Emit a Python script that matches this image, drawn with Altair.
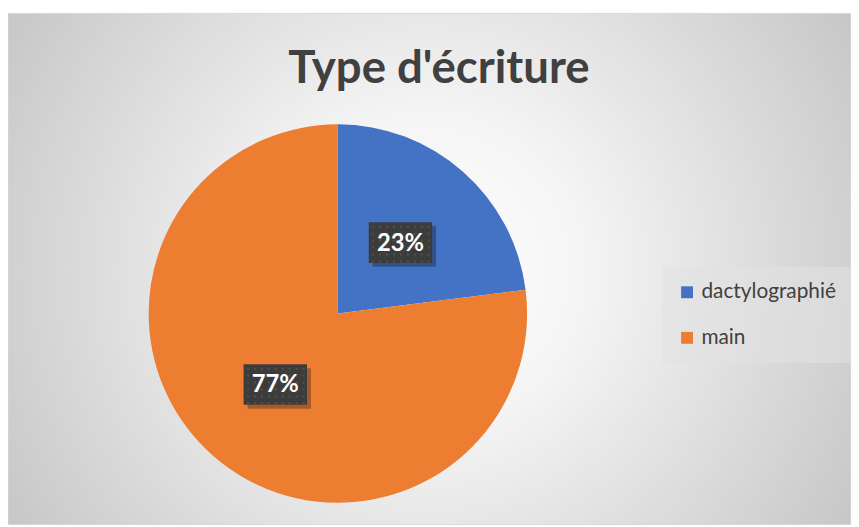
import altair as alt
import pandas as pd

# ---- data ----
categories = ["dactylographié", "main"]
values = [23, 77]
label_texts = ["23%", "77%"]
slice_colors = ["#4472C4", "#ED7D31"]
title_text = "Type d'écriture"

df = pd.DataFrame({
    "cat": categories,
    "val": values,
    "label": label_texts,
    "order": list(range(len(categories))),
})
one = pd.DataFrame({"k": [0]})

# ---- layout constants ----
W, H = 851, 519
CX, CY, R = 333, 306, 191
LABEL_R = 0.5
BOX_W, BOX_H = 64, 41

# box shape in [-1,1] units (1 unit = BOX_W/2 px)
hy = BOX_H / BOX_W
box_path = f"M-1,{-hy}H1V{hy}H-1Z"

# dotted pattern inside the label box
dots = []
step = 7 / (BOX_W / 2)
d = 2 / (BOX_W / 2)
yy = -hy + step / 2
while yy < hy - d:
    xx = -1 + step / 2
    while xx < 1 - d:
        dots.append(f"M{xx:.3f},{yy:.3f}h{d:.3f}v{d:.3f}h{-d:.3f}Z")
        xx += step
    yy += step
dots_path = "".join(dots)

background = alt.Chart(one).mark_rect(
    fill={
        "gradient": "radial",
        "x1": 0.5, "y1": 0.5, "r1": 0,
        "x2": 0.5, "y2": 0.5, "r2": 0.6,
        "stops": [
            {"offset": 0, "color": "#ffffff"},
            {"offset": 0.3, "color": "#f5f5f5"},
            {"offset": 1, "color": "#c5c5c5"},
        ],
    },
    stroke="#d9d9d9",
    strokeWidth=1,
).encode(x=alt.value(0), x2=alt.value(W), y=alt.value(3), y2=alt.value(H))

pie = alt.Chart(df).mark_arc(outerRadius=R).encode(
    theta=alt.Theta("val:Q", stack=True),
    order=alt.Order("order:Q"),
    color=alt.Color(
        "cat:N",
        scale=alt.Scale(domain=categories, range=slice_colors),
        legend=alt.Legend(
            title=None,
            orient="none",
            legendX=660,
            legendY=259,
            padding=15,
            fillColor="rgba(226,226,226,0.55)",
            symbolType="square",
            symbolSize=144,
            symbolStrokeWidth=0,
            labelFont="Lato",
            labelFontSize=21,
            labelColor="#404040",
            labelOffset=4,
            rowPadding=24,
            labelLimit=300,
        ),
    ),
    x=alt.value(CX),
    y=alt.value(CY),
)

lab = alt.Chart(df).transform_window(
    cum="sum(val)", sort=[alt.SortField("order")], frame=[None, 0]
).transform_joinaggregate(
    total="sum(val)"
).transform_calculate(
    ang="2*PI*(datum.cum - datum.val/2)/datum.total"
).transform_calculate(
    px=f"{LABEL_R}*sin(datum.ang)"
).transform_calculate(
    py=f"{LABEL_R}*cos(datum.ang)"
).encode(
    x=alt.X("px:Q", scale=alt.Scale(domain=[-1, 1], range=[CX - R, CX + R]), axis=None),
    y=alt.Y("py:Q", scale=alt.Scale(domain=[-1, 1], range=[CY + R, CY - R]), axis=None),
)

shadow = lab.mark_point(
    shape=box_path, size=BOX_W ** 2, filled=True, fill="#000000",
    opacity=0.28, strokeWidth=0, xOffset=4, yOffset=4,
)
box = lab.mark_point(
    shape=box_path, size=BOX_W ** 2, filled=True, fill="#3c3c3c",
    opacity=1, strokeWidth=0,
)
dotmark = lab.mark_point(
    shape=dots_path, size=BOX_W ** 2, filled=True, fill="#525252",
    opacity=1, strokeWidth=0,
)
text = lab.mark_text(
    font="Lato", fontSize=24, fontWeight="bold", color="#ffffff",
    align="center", baseline="middle", dy=1,
).encode(text="label:N")

title = alt.Chart(one).mark_text(
    text=title_text, font="Lato", fontSize=46, fontWeight="bold",
    color="#404040", align="center", baseline="alphabetic",
).encode(x=alt.value(435), y=alt.value(73))

chart = alt.layer(
    background, pie, shadow, box, dotmark, text, title
).properties(
    width=W, height=H, padding=0, autosize="none"
).configure_view(stroke=None)

chart.save("out.html", embed_options={"renderer": "svg", "actions": False})
